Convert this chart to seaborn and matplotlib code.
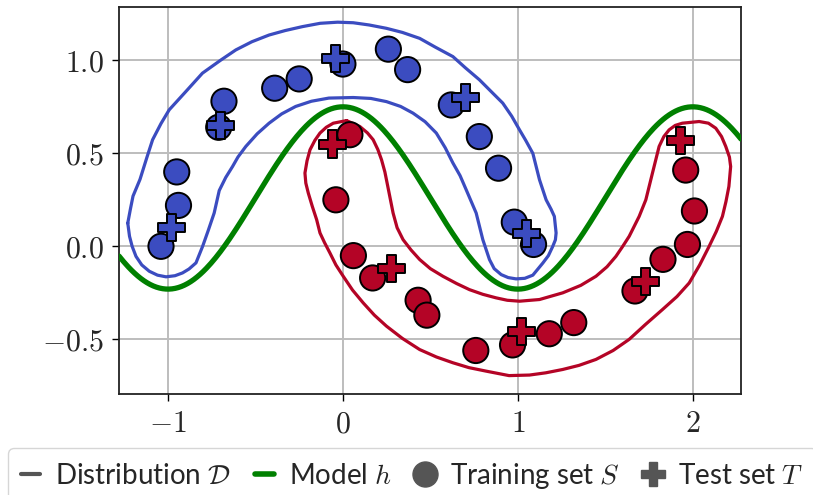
import numpy as np
import pandas as pd
import matplotlib
matplotlib.use("Agg")
import matplotlib.pyplot as plt
from matplotlib.lines import Line2D
import seaborn as sns

# ---------------- data ----------------
BLUE = "#3b4cc0"
RED = "#b40426"
GREEN = "#008000"
GRAY = "#555555"

train_blue_x = [-1.04, -0.94, -0.95, -0.71, -0.68, -0.39, -0.25, 0.00, 0.26, 0.37, 0.62, 0.78, 0.89, 0.98, 1.09]
train_blue_y = [0.00, 0.22, 0.40, 0.64, 0.78, 0.85, 0.90, 0.98, 1.06, 0.95, 0.76, 0.59, 0.42, 0.13, 0.01]
train_red_x = [0.04, -0.04, 0.06, 0.17, 0.43, 0.48, 0.76, 0.97, 1.18, 1.32, 1.67, 1.83, 1.97, 2.01, 1.96]
train_red_y = [0.60, 0.25, -0.05, -0.17, -0.29, -0.37, -0.56, -0.53, -0.47, -0.41, -0.24, -0.07, 0.01, 0.19, 0.41]

test_blue_x = [-0.98, -0.70, -0.04, 0.70, 1.05]
test_blue_y = [0.10, 0.65, 1.01, 0.80, 0.07]
test_red_x = [-0.06, 0.28, 1.02, 1.73, 1.93]
test_red_y = [0.55, -0.12, -0.46, -0.19, 0.57]

# Model h : offset + amplitude * cos(pi * x)
model_offset = 0.26
model_amplitude = 0.49
model_frequency = np.pi

# Distribution D contours (traced)
blue_contour_x = [-1.23, -1.215, -1.20, -1.16, -1.12, -1.088, -1.04, -0.993, -0.90, -0.803, -0.70, -0.612,
                  -0.52, -0.422, -0.33, -0.232, -0.13, -0.03, 0.059, 0.15, 0.249, 0.34, 0.439, 0.53,
                  0.629, 0.70, 0.781, 0.85, 0.914, 0.965, 1.01, 1.045, 1.086, 1.124, 1.162, 1.19, 1.209,
                  1.219, 1.215, 1.20, 1.175, 1.143, 1.086, 1.04, 0.99, 0.945, 0.905, 0.865, 0.838, 0.80,
                  0.762, 0.705, 0.67, 0.629, 0.585, 0.534, 0.47, 0.401, 0.33, 0.249, 0.16, 0.059, -0.08,
                  -0.18, -0.27, -0.35, -0.422, -0.49, -0.555, -0.60, -0.631, -0.67, -0.707, -0.736,
                  -0.77, -0.802, -0.84, -0.88, -0.917, -0.96, -1.011, -1.06, -1.107, -1.15, -1.183,
                  -1.205, -1.22, -1.23]
blue_contour_y = [0.125, 0.20, 0.27, 0.36, 0.48, 0.573, 0.66, 0.734, 0.83, 0.931, 1.00, 1.056,
                  1.10, 1.136, 1.16, 1.181, 1.199, 1.205, 1.202, 1.19, 1.172, 1.15, 1.118, 1.07,
                  1.02, 0.96, 0.895, 0.83, 0.77, 0.70, 0.626, 0.57, 0.50, 0.358, 0.25, 0.20, 0.161,
                  0.072, 0.035, 0.0, -0.05, -0.09, -0.155, -0.172, -0.175, -0.168, -0.152, -0.12, -0.071,
                  0.036, 0.179, 0.304, 0.38, 0.448, 0.53, 0.609, 0.67, 0.716, 0.752, 0.778, 0.795, 0.80,
                  0.797, 0.78, 0.752, 0.712, 0.662, 0.605, 0.537, 0.48, 0.429, 0.37, 0.30, 0.179,
                  0.085, 0.0, -0.089, -0.122, -0.143, -0.158, -0.164, -0.155, -0.134, -0.10, -0.054,
                  0.0, 0.054, 0.125]
red_contour_x = [0.021, 0.097, 0.14, 0.173, 0.20, 0.221, 0.24, 0.255, 0.287, 0.31, 0.344, 0.39, 0.439,
                 0.50, 0.572, 0.65, 0.724, 0.80, 0.876, 0.94, 1.01, 1.124, 1.257, 1.36, 1.447, 1.51,
                 1.561, 1.60, 1.637, 1.694, 1.732, 1.77, 1.808, 1.835, 1.865, 1.90, 1.941, 2.037, 2.09,
                 2.132, 2.165, 2.189, 2.21, 2.217, 2.207, 2.19, 2.17, 2.135, 2.094, 2.04, 1.98, 1.91,
                 1.827, 1.73, 1.637, 1.545, 1.447, 1.35, 1.257, 1.16, 1.067, 0.95, 0.819, 0.72, 0.629,
                 0.535, 0.439, 0.34, 0.249, 0.18, 0.116, 0.055, 0.002, -0.04, -0.074, -0.105, -0.131,
                 -0.15, -0.175, -0.198, -0.212, -0.217, -0.205, -0.188, -0.16, -0.131, -0.095, -0.055,
                 0.021]
red_contour_y = [0.676, 0.644, 0.61, 0.573, 0.52, 0.465, 0.40, 0.33, 0.179, 0.10, 0.036, -0.02, -0.071,
                 -0.12, -0.161, -0.20, -0.233, -0.258, -0.277, -0.29, -0.295, -0.286, -0.25, -0.21,
                 -0.161, -0.11, -0.054, 0.0, 0.054, 0.161, 0.25, 0.394, 0.537, 0.59, 0.626, 0.65,
                 0.662, 0.671, 0.662, 0.635, 0.59, 0.537, 0.48, 0.429, 0.322, 0.24, 0.161, 0.08, 0.0,
                 -0.10, -0.197, -0.27, -0.34, -0.42, -0.5, -0.56, -0.608, -0.64, -0.662, -0.68, -0.692,
                 -0.695, -0.671, -0.652, -0.626, -0.595, -0.555, -0.495, -0.429, -0.37, -0.304, -0.235,
                 -0.161, -0.10, -0.036, 0.02, 0.072, 0.143, 0.215, 0.287, 0.34, 0.394, 0.46, 0.519,
                 0.57, 0.609, 0.64, 0.662, 0.676]

x_ticks = [-1, 0, 1, 2]
x_tick_labels = ["$-1$", "$0$", "$1$", "$2$"]
y_ticks = [-0.5, 0.0, 0.5, 1.0]
y_tick_labels = ["$-0.5$", "$0.0$", "$0.5$", "$1.0$"]
x_limits = (-1.28, 2.276)
y_limits = (-0.794, 1.287)

legend_labels = [r"Distribution $\mathcal{D}$", r"Model $h$", r"Training set $S$", r"Test set $T$"]

# ---------------- style ----------------
sns.set_style("whitegrid")
plt.rcParams["font.family"] = ["Lato", "DejaVu Sans"]
plt.rcParams["mathtext.fontset"] = "cm"

fig = plt.figure(figsize=(8.13, 4.95), dpi=100)
ax = fig.add_axes([0.1464, 0.204, 0.765, 0.782])

# contours
sns.lineplot(x=blue_contour_x, y=blue_contour_y, sort=False, estimator=None, color=BLUE, lw=2.3,
             ax=ax, zorder=2)
sns.lineplot(x=red_contour_x, y=red_contour_y, sort=False, estimator=None, color=RED, lw=2.3,
             ax=ax, zorder=2)
for line in ax.get_lines():
    line.set_solid_joinstyle("round")

# model
xs = np.linspace(x_limits[0], x_limits[1], 400)
sns.lineplot(x=xs, y=model_offset + model_amplitude * np.cos(model_frequency * xs), color=GREEN, lw=3.8,
             ax=ax, zorder=3)

# points
df_train = pd.DataFrame({"x": train_blue_x + train_red_x, "y": train_blue_y + train_red_y,
                         "c": ["blue"] * len(train_blue_x) + ["red"] * len(train_red_x)})
df_test = pd.DataFrame({"x": test_blue_x + test_red_x, "y": test_blue_y + test_red_y,
                        "c": ["blue"] * len(test_blue_x) + ["red"] * len(test_red_x)})
pal = {"blue": BLUE, "red": RED}
sns.scatterplot(data=df_train, x="x", y="y", hue="c", palette=pal, s=330, marker="o",
                edgecolor="black", linewidth=1.4, legend=False, ax=ax, zorder=4)
sns.scatterplot(data=df_test, x="x", y="y", hue="c", palette=pal, s=380, marker="P",
                edgecolor="black", linewidth=1.4, legend=False, ax=ax, zorder=5)

ax.set_xlim(*x_limits)
ax.set_ylim(*y_limits)
ax.set_xticks(x_ticks)
ax.set_xticklabels(x_tick_labels)
ax.set_yticks(y_ticks)
ax.set_yticklabels(y_tick_labels)
ax.tick_params(axis="both", labelsize=21.5, length=5, width=1.0, color="black", direction="out",
               bottom=True, left=True, pad=6)
ax.set_xlabel("")
ax.set_ylabel("")
ax.grid(True, color="#bdbdbd", lw=1.4)
for sp in ax.spines.values():
    sp.set_color("#222222")
    sp.set_linewidth(1.3)

handles = [
    Line2D([0], [0], color=GRAY, lw=3),
    Line2D([0], [0], color=GREEN, lw=4),
    Line2D([0], [0], marker="o", color=GRAY, lw=0, markersize=18),
    Line2D([0], [0], marker="P", color=GRAY, lw=0, markersize=17),
]
fig.legend(handles, legend_labels, loc="upper left", bbox_to_anchor=(8 / 813, 1 - 448 / 495),
           borderaxespad=0.0, ncol=4, fontsize=20, handlelength=0.7, handletextpad=0.55,
           columnspacing=0.85, frameon=True, edgecolor="#cccccc", fancybox=True, borderpad=0.45)

fig.savefig("out.png", dpi=100)
